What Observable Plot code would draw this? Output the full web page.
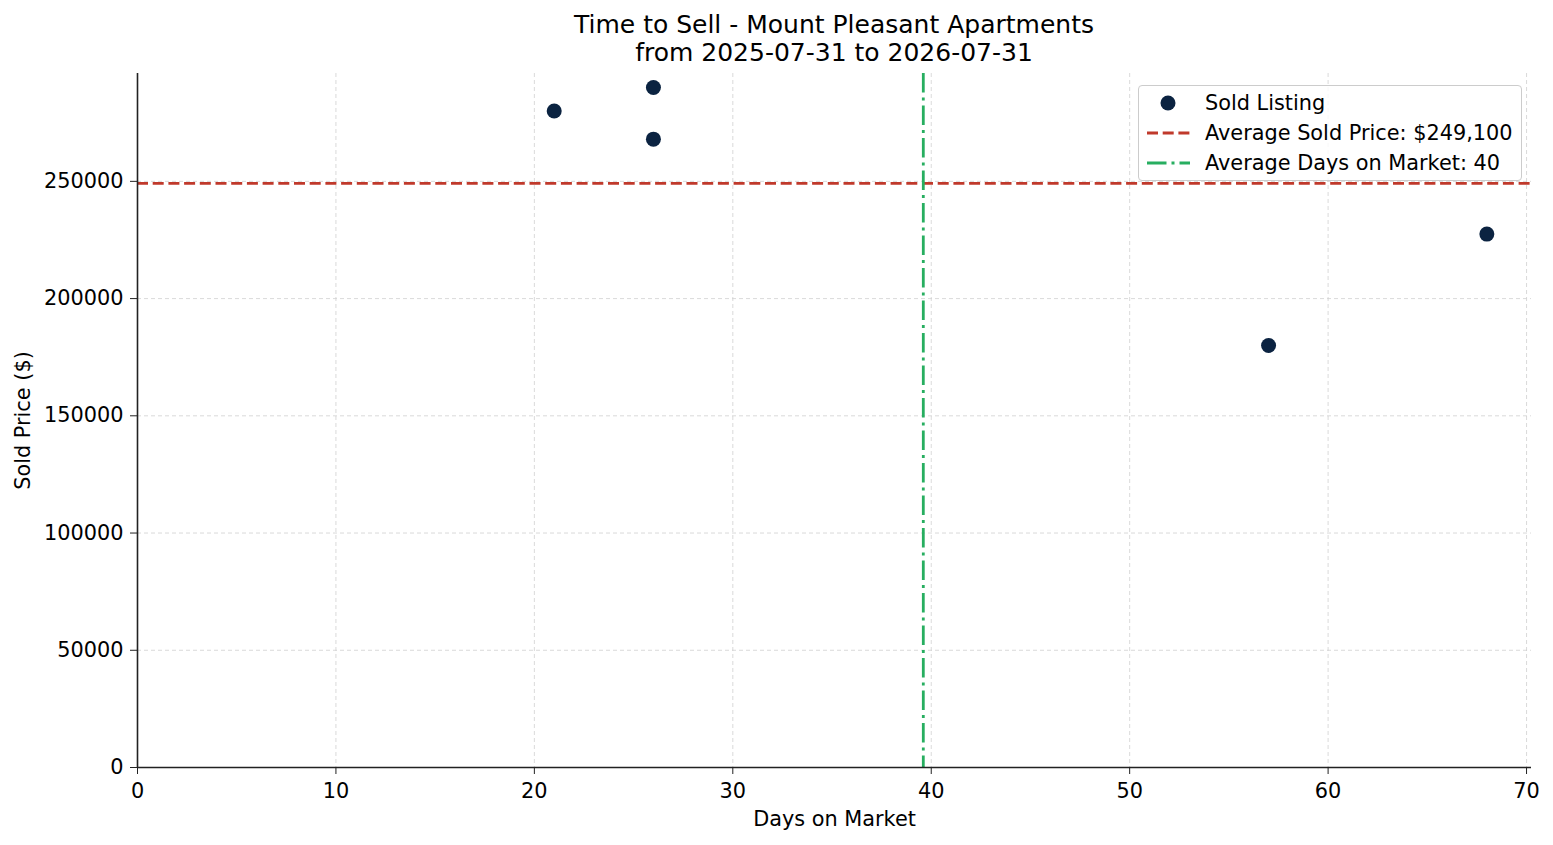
<!DOCTYPE html>
<html>
<head>
<meta charset="utf-8">
<script src="https://cdn.jsdelivr.net/npm/d3@7"></script>
<script src="https://cdn.jsdelivr.net/npm/@observablehq/plot@0.6"></script>
<style>
  html, body { margin: 0; padding: 0; background: #fff; overflow: hidden; }
  #wrap { position: relative; width: 1553px; height: 845px; font-family: "DejaVu Sans", sans-serif; }
  #title { box-sizing: border-box; width: 1553px; height: 67px; padding: 11px 22px 0 137px; text-align: center; font-size: 25px; line-height: 28px; color: #000; }
  #legend { position: absolute; left: 1138px; top: 85px; width: 384px; height: 96px; box-sizing: border-box;
    border: 1px solid #cccccc; border-radius: 4px; background: rgba(255,255,255,0.8); font-size: 20.83px; color: #000; }
  .item { position: absolute; left: 0; height: 30px; display: flex; align-items: center; }
  .item svg { margin-left: 8px; margin-right: 15px; }
</style>
</head>
<body>
<div id="wrap">
  <div id="title">Time to Sell - Mount Pleasant Apartments<br>from 2025-07-31 to 2026-07-31</div>
  <div id="chart"></div>
  <div id="legend"></div>
</div>
<script>
const days = [21, 26, 26, 57, 68];
const prices = [280000, 290000, 268000, 180000, 227500];
const xTicks = [0, 10, 20, 30, 40, 50, 60, 70];
const yTicks = [0, 50000, 100000, 150000, 200000, 250000];

const colDot = "#0b2341";
const colRed = "#c0392b";
const colGreen = "#27ae60";
const dashRed = "11,4.7";
const dashGreen = "19.5,5,3,5";

const data = days.map((d, i) => ({days: d, price: prices[i]}));
const avgPrice = d3.mean(prices);
const avgDays = d3.mean(days);

const chart = Plot.plot({
  width: 1553,
  height: 778,
  marginTop: 6,
  marginBottom: 78,
  marginLeft: 137,
  marginRight: 22,
  style: {fontFamily: "DejaVu Sans", fontSize: "20.83px", color: "#222", background: "#fff"},
  x: {domain: [0, 70.25]},
  y: {domain: [0, 296000]},
  marks: [
    Plot.gridX(xTicks, {stroke: "#d0d0d0", strokeOpacity: 1, strokeWidth: 0.8, strokeDasharray: "4,3"}),
    Plot.gridY(yTicks, {stroke: "#d0d0d0", strokeOpacity: 1, strokeWidth: 0.8, strokeDasharray: "4,3"}),
    Plot.ruleY([avgPrice], {stroke: colRed, strokeWidth: 2.8, strokeDasharray: dashRed}),
    Plot.ruleX([avgDays], {stroke: colGreen, strokeWidth: 2.8, strokeDasharray: dashGreen}),
    Plot.dot(data, {x: "days", y: "price", r: 7.5, fill: colDot, stroke: "none"}),
    Plot.ruleX([0], {stroke: "#222", strokeWidth: 1.6}),
    Plot.ruleY([0], {stroke: "#222", strokeWidth: 1.6}),
    Plot.axisX(xTicks, {tickSize: 7, tickPadding: 9, tickFormat: d => String(d), fill: "#000",
      label: "Days on Market", labelAnchor: "center", labelArrow: "none", labelOffset: 58}),
    Plot.axisY(yTicks, {tickSize: 7, tickPadding: 7, tickFormat: d => String(d), fill: "#000",
      label: "Sold Price ($)", labelAnchor: "center", labelArrow: "none", labelOffset: 122})
  ]
});
document.getElementById("chart").appendChild(chart);

// Legend
const legendItems = [
  {label: "Sold Listing", type: "dot"},
  {label: "Average Sold Price: $" + d3.format(",")(Math.round(avgPrice)), type: "dash"},
  {label: "Average Days on Market: " + Math.round(avgDays), type: "dashdot"}
];
const legend = document.getElementById("legend");
legendItems.forEach((it, i) => {
  const row = document.createElement("div");
  row.className = "item";
  row.style.top = (2 + i * 30) + "px";
  let sw;
  if (it.type === "dot") sw = `<circle cx="21" cy="8" r="7.5" fill="${colDot}"/>`;
  else if (it.type === "dash") sw = `<line x1="0" x2="43" y1="8" y2="8" stroke="${colRed}" stroke-width="2.8" stroke-dasharray="${dashRed}"/>`;
  else sw = `<line x1="0" x2="43" y1="8" y2="8" stroke="${colGreen}" stroke-width="2.8" stroke-dasharray="${dashGreen}"/>`;
  row.innerHTML = `<svg width="43" height="16">${sw}</svg><span>${it.label}</span>`;
  legend.appendChild(row);
});
</script>
</body>
</html>
